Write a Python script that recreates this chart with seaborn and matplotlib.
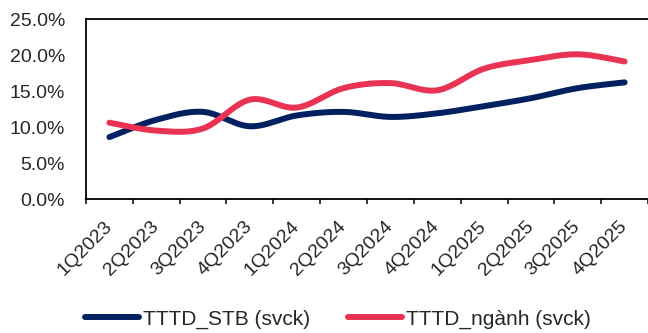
import numpy as np
import pandas as pd
import matplotlib
matplotlib.use("Agg")
import matplotlib.pyplot as plt
import seaborn as sns
from matplotlib.ticker import FuncFormatter

# Quarterly credit growth, year-over-year (%)
quarters = ["1Q2023", "2Q2023", "3Q2023", "4Q2023", "1Q2024", "2Q2024",
            "3Q2024", "4Q2024", "1Q2025", "2Q2025", "3Q2025", "4Q2025"]
stb_growth = [8.6, 11.0, 12.1, 10.1, 11.6, 12.1, 11.4, 11.9, 12.9, 14.0, 15.4, 16.2]
industry_growth = [10.6, 9.5, 9.8, 13.8, 12.7, 15.4, 16.1, 15.1, 18.1, 19.3, 20.1, 19.1]

series_names = ["TTTD_STB (svck)", "TTTD_ngành (svck)"]
series_colors = ["#002060", "#EA3352"]


def smooth_curve(values, steps=40):
    """Bezier-smoothed path through the points (control points at 1/6 of neighbour spread)."""
    y = np.asarray(values, dtype=float)
    x = np.arange(len(y), dtype=float)
    pts = np.column_stack([x, y])
    out = []
    n = len(pts)
    for i in range(n - 1):
        p0 = pts[max(i - 1, 0)]
        p1 = pts[i]
        p2 = pts[i + 1]
        p3 = pts[min(i + 2, n - 1)]
        c1 = p1 + (p2 - p0) / 6.0
        c2 = p2 - (p3 - p1) / 6.0
        t = np.linspace(0, 1, steps, endpoint=(i == n - 2))[:, None]
        seg = ((1 - t) ** 3) * p1 + 3 * ((1 - t) ** 2) * t * c1 + 3 * (1 - t) * t ** 2 * c2 + t ** 3 * p2
        out.append(seg)
    return np.vstack(out)


frames = []
for name, vals in zip(series_names, [stb_growth, industry_growth]):
    curve = smooth_curve(vals)
    frames.append(pd.DataFrame({"x": curve[:, 0], "y": curve[:, 1], "series": name}))
df = pd.concat(frames, ignore_index=True)

sns.set_style("white")
plt.rcParams["font.family"] = ["Liberation Sans", "DejaVu Sans"]

fig = plt.figure(figsize=(6.48, 3.33), dpi=100)
ax = fig.add_axes([86 / 648, 1 - 199 / 333, 1 - 86 / 648, 180 / 333])

sns.lineplot(data=df, x="x", y="y", hue="series", palette=series_colors,
             sort=False, estimator=None, linewidth=4.3, ax=ax, legend=False)
for line in ax.lines:
    line.set_solid_capstyle("round")
    line.set_solid_joinstyle("round")

ax.set_xlim(-0.5, len(quarters) - 0.5)
ax.set_ylim(0, 25)
ax.set_yticks(np.arange(0, 25.1, 5))
ax.yaxis.set_major_formatter(FuncFormatter(lambda v, p: f"{v:.1f}%"))
ax.tick_params(axis="y", length=0, pad=15, labelsize=14)

# Tick marks sit on category boundaries; labels sit at category centres
ax.set_xticks(np.arange(-0.5, len(quarters), 1.0))
ax.set_xticklabels([])
ax.tick_params(axis="x", which="major", direction="out", length=3.6, width=1.1,
               color="black", bottom=True)
ax.set_xticks(np.arange(len(quarters)), minor=True)
ax.set_xticklabels(quarters, minor=True, rotation=45, ha="right", va="center",
                   rotation_mode="anchor", fontsize=14)
ax.tick_params(axis="x", which="minor", length=0, pad=18)

ax.set_xlabel("")
ax.set_ylabel("")
for side in ["left", "bottom", "top"]:
    ax.spines[side].set_color("black")
    ax.spines[side].set_linewidth(1.3)
ax.spines["right"].set_visible(False)

handles = [plt.Line2D([], [], color=c, linewidth=4.3, solid_capstyle="round") for c in series_colors]
fig.legend(handles, series_names, loc="center", bbox_to_anchor=(338 / 648, 1 - 319 / 333),
           ncol=2, frameon=False, fontsize=15, handlelength=2.6, handletextpad=0.2,
           columnspacing=1.8, borderaxespad=0, borderpad=0)

fig.savefig("out.png", dpi=100)
